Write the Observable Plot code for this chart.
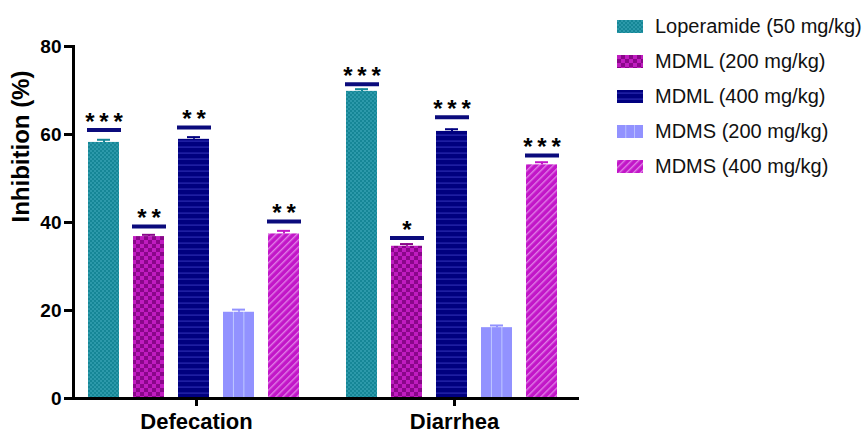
<!DOCTYPE html>
<html><head><meta charset="utf-8">
<script src="https://cdn.jsdelivr.net/npm/d3@7"></script>
<script src="https://cdn.jsdelivr.net/npm/@observablehq/plot@0.6"></script>
<style>
body{margin:0;background:#fff;font-family:"Liberation Sans",Arial,sans-serif;}
#wrap{position:relative;width:865px;height:435px;}
#legend{position:absolute;left:617px;top:9px;}
.row{display:flex;align-items:center;height:35px;font-size:20px;color:#111;white-space:nowrap;}
.row svg{margin-right:12px;flex:none}
</style></head><body>
<svg width="0" height="0" style="position:absolute"><defs>
<pattern id="p0" width="4" height="4" patternUnits="userSpaceOnUse"><rect width="4" height="4" fill="#158696"/><rect width="2" height="2" fill="#2c99aa"/><rect x="2" y="2" width="2" height="2" fill="#2c99aa"/></pattern>
<pattern id="p1" width="8" height="8" patternUnits="userSpaceOnUse"><rect width="8" height="8" fill="#8a068a"/><rect width="4" height="4" fill="#c01cc0"/><rect x="4" y="4" width="4" height="4" fill="#c01cc0"/></pattern>
<pattern id="p2" width="6" height="6" patternUnits="userSpaceOnUse"><rect width="6" height="6" fill="#00007f"/><rect y="2.5" width="6" height="1.2" fill="#2a2ab0"/></pattern>
<pattern id="p3" width="1" height="1" patternUnits="objectBoundingBox" patternContentUnits="objectBoundingBox"><rect width="1" height="1" fill="#9292ff"/><rect x="0.32" width="0.035" height="1" fill="#bcc4ff"/><rect x="0.655" width="0.035" height="1" fill="#bcc4ff"/></pattern>
<pattern id="p4" width="5" height="5" patternUnits="userSpaceOnUse" patternTransform="rotate(45)"><rect width="5" height="5" fill="#c216c8"/><rect width="1.4" height="5" fill="#e07de6"/></pattern>
</defs></svg>
<div id="wrap"><div id="chart"></div><div id="legend"></div></div>
<script>
const groups = ["Defecation", "Diarrhea"];
const treatments = ["Loperamide (50 mg/kg)", "MDML (200 mg/kg)", "MDML (400 mg/kg)", "MDMS (200 mg/kg)", "MDMS (400 mg/kg)"];
const defecation = [58.2, 36.8, 58.9, 19.6, 37.4];
const diarrhea = [69.8, 34.6, 60.7, 16.1, 53.1];
const errDefecation = [0.6, 0.4, 0.5, 0.6, 0.7];
const errDiarrhea = [0.5, 0.5, 0.5, 0.5, 0.6];
const sigDefecation = ["***", "**", "**", "", "**"];
const sigDiarrhea = ["***", "*", "***", "", "***"];
const sigLineDefecation = [61.0, 39.1, 61.6, null, 40.2];
const sigLineDiarrhea = [71.4, 36.5, 63.9, null, 55.2];
const yTicks = [0, 20, 40, 60, 80];
const yLabel = "Inhibition (%)";

const patternFills = ["url(#p0)", "url(#p1)", "url(#p2)", "url(#p3)", "url(#p4)"];
const baseColors = ["#158696", "#8a068a", "#00007f", "#9292ff", "#c216c8"];

const values = [defecation, diarrhea];
const errs = [errDefecation, errDiarrhea];
const sigs = [sigDefecation, sigDiarrhea];
const sigLines = [sigLineDefecation, sigLineDiarrhea];
const rows = [];
groups.forEach((g, gi) => treatments.forEach((t, ti) => rows.push({
  group: g, treatment: t, ti, value: values[gi][ti], err: errs[gi][ti],
  sig: sigs[gi][ti].split("").join("\u2009"), sigY: sigLines[gi][ti]
})));
const sigRows = rows.filter(d => d.sigY != null);

const chart = Plot.plot({
  width: 865, height: 435,
  marginLeft: 73, marginRight: 288, marginTop: 46, marginBottom: 37,
  style: {fontFamily: "'Liberation Sans', Arial, sans-serif", color: "black", background: "white", overflow: "visible"},
  fx: {domain: groups, paddingInner: 0.047, paddingOuter: 0, label: null},
  x: {domain: treatments, paddingInner: 0.32, paddingOuter: 0.36, align: 0.41, axis: null},
  y: {domain: [0, 80], axis: null},
  color: {domain: treatments, range: patternFills},
  marks: [
    Plot.barY(rows, {fx: "group", x: "treatment", y: "value", fill: "treatment"}),
    Plot.ruleX(rows, {fx: "group", x: "treatment", y1: "value", y2: d => d.value + d.err, stroke: d => baseColors[d.ti], strokeWidth: 2}),
    Plot.tickY(rows, {fx: "group", x: "treatment", y: d => d.value + d.err, stroke: d => baseColors[d.ti], strokeWidth: 2, insetLeft: 9, insetRight: 9}),
    Plot.tickY(sigRows, {fx: "group", x: "treatment", y: "sigY", stroke: "#0b0b7c", strokeWidth: 4, insetLeft: -1, insetRight: -2}),
    Plot.text(sigRows, {fx: "group", x: "treatment", y: "sigY", text: "sig", dy: -8, fontSize: 24, fontWeight: "bold", fill: "black"}),
    Plot.frame({anchor: "left", facet: "super", strokeWidth: 3, stroke: "black"}),
    Plot.frame({anchor: "bottom", facet: "super", strokeWidth: 3, stroke: "black"}),
    Plot.axisY({ticks: yTicks, tickSize: 9, strokeWidth: 3, fontWeight: "bold", fontSize: 19, tickPadding: 3, label: null}),
    Plot.axisFx({anchor: "bottom", tickSize: 8, strokeWidth: 3, fontSize: 22, fontWeight: "bold", tickPadding: 7, label: null}),
    Plot.text([yLabel], {facet: "super", frameAnchor: "left", rotate: -90, dx: -52, fontSize: 24, fontWeight: "bold", fill: "black"})
  ]
});
document.getElementById("chart").appendChild(chart);

const legend = document.getElementById("legend");
treatments.forEach((t, i) => {
  const row = document.createElement("div");
  row.className = "row";
  row.innerHTML = `<svg width="26" height="13"><rect width="26" height="13" fill="${patternFills[i]}"/></svg><span>${t}</span>`;
  legend.appendChild(row);
});
</script>
</body></html>
